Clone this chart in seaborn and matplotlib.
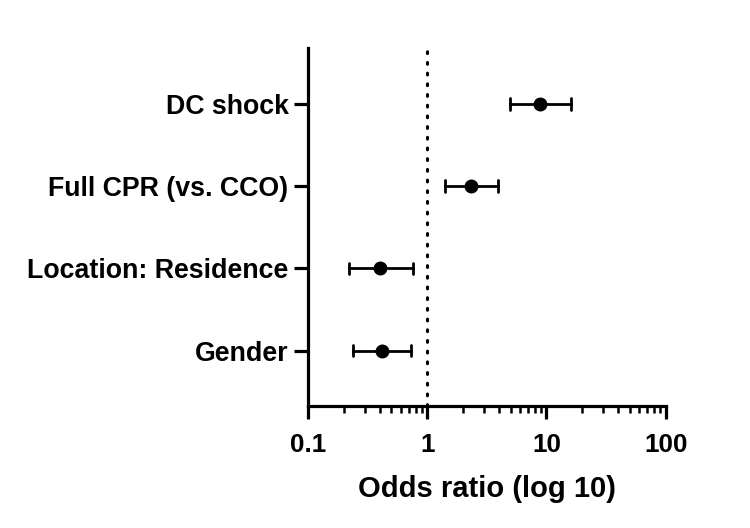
import numpy as np
import pandas as pd
import seaborn as sns
import matplotlib.pyplot as plt
from matplotlib.ticker import LogLocator, FixedLocator, FixedFormatter, NullFormatter

# values
factors = ["DC shock", "Full CPR (vs. CCO)", "Location: Residence", "Gender"]
odds = [8.9, 2.34, 0.40, 0.42]
ci_low = [4.9, 1.40, 0.22, 0.24]
ci_high = [16.1, 3.92, 0.76, 0.73]
xticks = [0.1, 1, 10, 100]
xtick_labels = ["0.1", "1", "10", "100"]

# long form: low / estimate / high per factor, median -> estimate, full range -> CI
df = pd.DataFrame({
    "factor": factors * 3,
    "value": ci_low + odds + ci_high,
})

sns.set_style("ticks")
plt.rcParams["font.family"] = ["Liberation Sans", "DejaVu Sans"]
plt.rcParams["font.weight"] = "bold"
plt.rcParams["text.color"] = "black"
plt.rcParams["xtick.color"] = "black"
plt.rcParams["ytick.color"] = "black"
plt.rcParams["axes.labelcolor"] = "black"

fig = plt.figure(figsize=(7.5, 5.28), dpi=100)
ax = fig.add_axes([0.4107, 0.2316, 0.4769, 0.6774])

ax.axvline(1, color="black", lw=2.2, linestyle=(0, (0.6, 2.9)),
           dash_capstyle="round", zorder=1)

sns.pointplot(data=df, x="value", y="factor", order=factors,
              estimator=np.median, errorbar=("pi", 100),
              log_scale=True, linestyle="none", color="black",
              marker="o", markersize=8, capsize=0.14,
              err_kws={"linewidth": 2.0}, ax=ax, zorder=3)

ax.set_xscale("log")
ax.set_xlim(0.1, 100)
ax.set_ylim(3.67, -0.68)

ax.xaxis.set_major_locator(FixedLocator(xticks))
ax.xaxis.set_major_formatter(FixedFormatter(xtick_labels))
ax.xaxis.set_minor_locator(LogLocator(base=10, subs=np.arange(2, 10)))
ax.xaxis.set_minor_formatter(NullFormatter())

for s in ["top", "right"]:
    ax.spines[s].set_visible(False)
for s in ["left", "bottom"]:
    ax.spines[s].set_linewidth(2.3)
    ax.spines[s].set_color("black")

ax.tick_params(axis="x", which="major", length=9.5, width=2.3,
               labelsize=18.7, pad=10, direction="out", labelcolor="black")
ax.tick_params(axis="x", which="minor", length=5, width=1.8, direction="out")
ax.tick_params(axis="y", length=10, width=2.3,
               labelsize=19.3, pad=4, direction="out", labelcolor="black")
for lab in ax.get_xticklabels() + ax.get_yticklabels():
    lab.set_fontweight("bold")

ax.set_ylabel("")
ax.set_xlabel("Odds ratio (log 10)", fontsize=21, fontweight="bold",
              labelpad=13, color="black")

fig.savefig("out.png", dpi=100)
